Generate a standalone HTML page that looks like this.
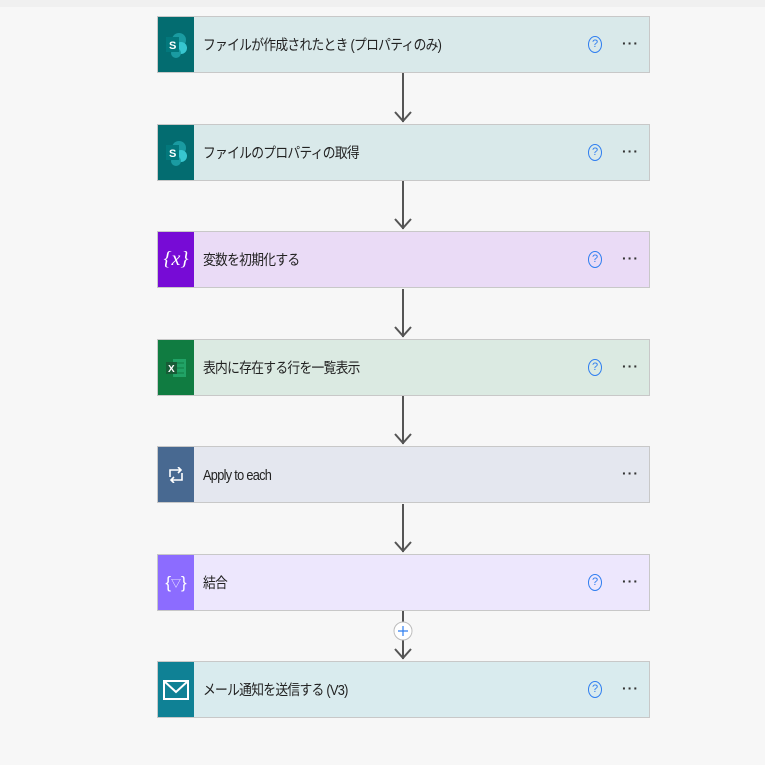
<!DOCTYPE html>
<html><head><meta charset="utf-8"><style>
body{margin:0;width:765px;height:765px;background:#f7f7f7;position:relative;overflow:hidden;font-family:"Liberation Sans","Noto Sans CJK JP",sans-serif}
.top{position:absolute;left:0;top:0;width:765px;height:7px;background:#f0f0f0}
.card{position:absolute;left:157px;width:491px;height:55px;border:1px solid #c8c8c8;box-sizing:content-box}
.ic{position:absolute;left:0;top:0;width:36px;height:55px;display:flex;align-items:center;justify-content:center;color:#fff}
.t{position:absolute;left:45px;top:2px;line-height:55px;font-size:14.5px;color:#222;letter-spacing:-0.8px;transform:scaleX(0.88);transform-origin:left center;white-space:nowrap}
.q{position:absolute;left:430px;top:19px;width:12px;height:15px;border:1.3px solid #2f7ef0;border-radius:50%;color:#2f7ef0;font-size:11px;line-height:15px;text-align:center}
.d{position:absolute;left:464px;top:18px;font-size:14px;color:#333;letter-spacing:1px;font-weight:bold}
</style></head><body>
<div class="top"></div>
<svg style="position:absolute;left:0;top:0" width="765" height="765">
<g stroke="#555" stroke-width="2" fill="none">
<line x1="403" y1="73" x2="403" y2="122"/><polyline points="395,112 403,121 411,112"/>
<line x1="403" y1="181" x2="403" y2="229"/><polyline points="395,219 403,228 411,219"/>
<line x1="403" y1="289" x2="403" y2="337"/><polyline points="395,327 403,336 411,327"/>
<line x1="403" y1="396" x2="403" y2="444"/><polyline points="395,434 403,443 411,434"/>
<line x1="403" y1="504" x2="403" y2="552"/><polyline points="395,542 403,551 411,542"/>
<line x1="403" y1="611" x2="403" y2="659"/><polyline points="395,649 403,658 411,649"/>
</g>
<circle cx="403" cy="631" r="9" fill="#fff" stroke="#bbb" stroke-width="1"/>
<path d="M398 631h10M403 626v10" stroke="#2f7ef0" stroke-width="1.2"/>
</svg>

<div class="card" style="top:16px;background:#d9e9ea"><div class="ic" style="background:#036c70"><svg width="24" height="26"><circle cx="15" cy="8" r="7" fill="#1a9ba1"/><circle cx="17" cy="16" r="6" fill="#37c6d0"/><circle cx="12" cy="21" r="5" fill="#1a9ba1"/><rect x="2" y="5" width="13" height="15" fill="#03787c"/><text x="5" y="17" font-size="11" fill="#fff" font-family="Liberation Sans" font-weight="bold">S</text></svg></div><div class="t">ファイルが作成されたとき (プロパティのみ)</div><div class="q">?</div><div class="d">···</div></div>

<div class="card" style="top:124px;background:#d9e9ea"><div class="ic" style="background:#036c70"><svg width="24" height="26"><circle cx="15" cy="8" r="7" fill="#1a9ba1"/><circle cx="17" cy="16" r="6" fill="#37c6d0"/><circle cx="12" cy="21" r="5" fill="#1a9ba1"/><rect x="2" y="5" width="13" height="15" fill="#03787c"/><text x="5" y="17" font-size="11" fill="#fff" font-family="Liberation Sans" font-weight="bold">S</text></svg></div><div class="t">ファイルのプロパティの取得</div><div class="q">?</div><div class="d">···</div></div>

<div class="card" style="top:231px;background:#eadbf6"><div class="ic" style="background:#770bd6;font-family:'Liberation Serif',serif;font-size:20px;font-style:italic">{<i>x</i>}</div><div class="t">変数を初期化する</div><div class="q">?</div><div class="d">···</div></div>

<div class="card" style="top:339px;background:#dbeae2"><div class="ic" style="background:#107c41"><svg width="22" height="20"><rect x="8" y="1" width="13" height="18" fill="#21a366"/><path d="M10 5h9M10 10h9M10 15h9" stroke="#107c41"/><rect x="1" y="4" width="11" height="12" fill="#185c37"/><text x="3" y="14" font-size="10" fill="#fff" font-family="Liberation Sans" font-weight="bold">X</text></svg></div><div class="t">表内に存在する行を一覧表示</div><div class="q">?</div><div class="d">···</div></div>

<div class="card" style="top:446px;background:#e4e7ef"><div class="ic" style="background:#486991"><svg width="18" height="16" fill="none" stroke="#fff" stroke-width="1.6"><path d="M3 10V3h11M11 0l3 3-3 3M15 6v7H4M7 16l-3-3 3-3"/></svg></div><div class="t">Apply to each</div><div class="d">···</div></div>

<div class="card" style="top:554px;background:#ede7fd"><div class="ic" style="background:#8c6cff;font-size:17px">{<span style="font-size:10px">▽</span>}</div><div class="t">結合</div><div class="q">?</div><div class="d">···</div></div>

<div class="card" style="top:661px;background:#d9ebee"><div class="ic" style="background:#0f8195"><svg width="26" height="20" fill="none" stroke="#fff" stroke-width="2"><rect x="1" y="1" width="24" height="18"/><path d="M1 1l12 11 12-11"/></svg></div><div class="t">メール通知を送信する (V3)</div><div class="q">?</div><div class="d">···</div></div>
</body></html>
